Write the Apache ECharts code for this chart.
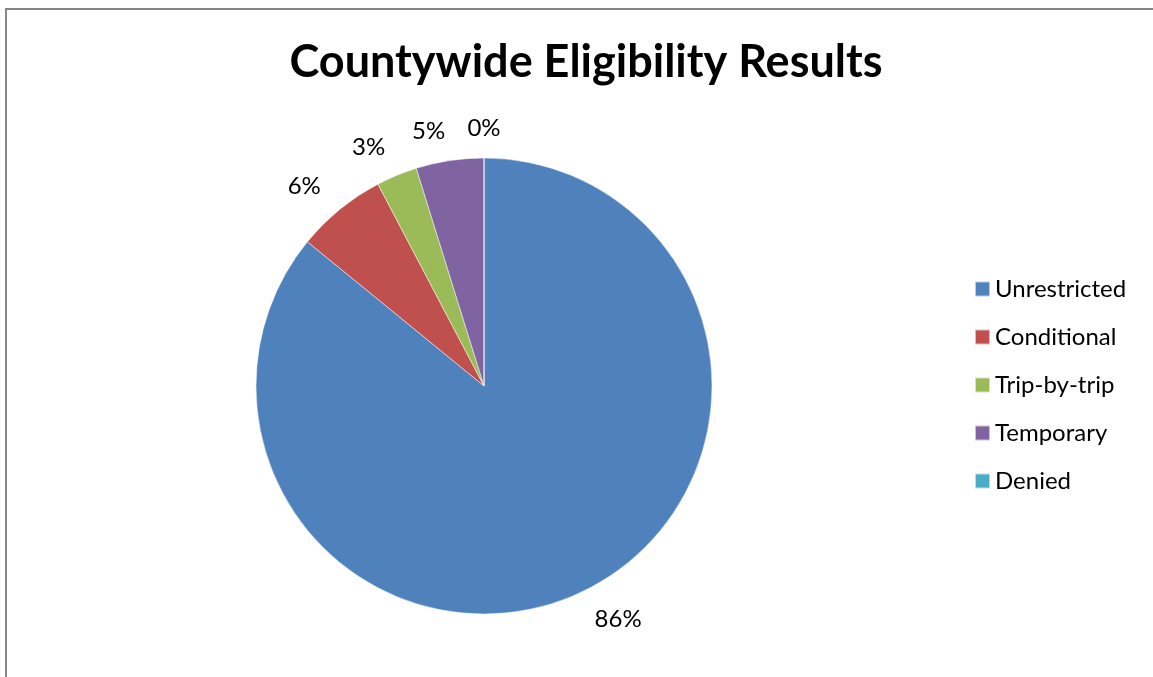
<!DOCTYPE html>
<html>
<head>
<meta charset="utf-8">
<script src="https://cdn.jsdelivr.net/npm/echarts@6/dist/echarts.min.js"></script>
<style>
  html, body { margin: 0; padding: 0; background: #fff; }
  #chart { width: 1153px; height: 677px; }
</style>
</head>
<body>
<div id="chart"></div>
<script>
// Eligibility outcomes, share of all determinations (%)
const categories = ['Unrestricted', 'Conditional', 'Trip-by-trip', 'Temporary', 'Denied'];
const shares = [85.9, 6.4, 2.9, 4.8, 0];
const sliceColors = ['#4F81BD', '#C0504D', '#9BBB59', '#8064A2', '#4BACC6'];

const FONT = 'Lato, "Open Sans", sans-serif';

const chart = echarts.init(document.getElementById('chart'), null, { renderer: 'canvas' });

chart.setOption({
  backgroundColor: '#fff',
  animation: false,
  color: sliceColors,
  title: {
    text: 'Countywide Eligibility Results',
    left: 581,
    textAlign: 'center',
    top: 35,
    textStyle: { fontFamily: FONT, fontWeight: 'bold', fontSize: 45, color: '#000' }
  },
  legend: {
    orient: 'vertical',
    left: 974,
    top: 276,
    padding: 0,
    icon: 'rect',
    itemWidth: 15,
    itemHeight: 15,
    itemGap: 22,
    itemTextGap: 7,
    selectedMode: false,
    textStyle: { fontFamily: FONT, fontSize: 24, color: '#000', lineHeight: 26 },
    data: categories
  },
  graphic: [{
    type: 'rect',
    shape: { x: 6, y: 9, width: 1200, height: 700 },
    style: { fill: 'none', stroke: '#868686', lineWidth: 2 },
    silent: true
  }],
  series: [{
    type: 'pie',
    center: [484, 386],
    radius: 228,
    startAngle: 90,
    clockwise: true,
    avoidLabelOverlap: false,
    itemStyle: { borderColor: 'rgba(255,255,255,0.6)', borderWidth: 0.8 },
    label: {
      show: true,
      position: 'outside',
      fontFamily: FONT,
      fontSize: 24,
      color: '#000',
      distanceToLabelLine: 0,
      formatter: p => Math.round(p.percent) + '%'
    },
    labelLine: { show: false, length: 30, length2: 0 },
    // an empty slice sits exactly at twelve o'clock, so centre its label there
    labelLayout: p => (shares[p.dataIndex] === 0 ? { align: 'center' } : {}),
    emphasis: { disabled: true },
    data: categories.map((name, i) => ({ name, value: shares[i] }))
  }]
});
</script>
</body>
</html>
